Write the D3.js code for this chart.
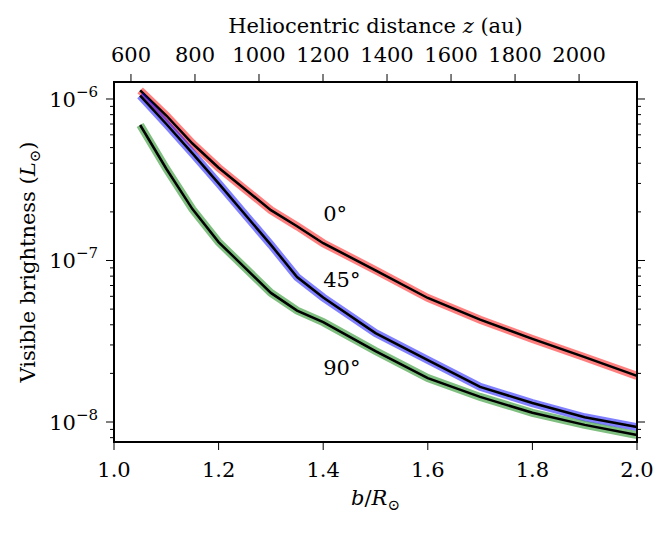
<!DOCTYPE html>
<html>
<head>
<meta charset="utf-8">
<script src="https://cdn.jsdelivr.net/npm/d3@7"></script>
<style>
body{margin:0;background:#fff;}
text{font-family:"DejaVu Serif",serif;fill:#000;}
</style>
</head>
<body>
<div id="chart"></div>
<script>
// values
var bValues = [1.05, 1.1, 1.15, 1.2, 1.3, 1.35, 1.4, 1.5, 1.6, 1.7, 1.8, 1.9, 2.0];
var bright0 = [1.13e-6, 7.9e-7, 5.3e-7, 3.75e-7, 2.05e-7, 1.63e-7, 1.28e-7, 8.7e-8, 5.86e-8, 4.3e-8, 3.27e-8, 2.52e-8, 1.93e-8];
var bright45 = [1.05e-6, 7.0e-7, 4.6e-7, 3.0e-7, 1.25e-7, 7.9e-8, 5.9e-8, 3.55e-8, 2.42e-8, 1.65e-8, 1.31e-8, 1.07e-8, 9.3e-9];
var bright90 = [6.9e-7, 3.7e-7, 2.08e-7, 1.3e-7, 6.3e-8, 4.9e-8, 4.15e-8, 2.75e-8, 1.87e-8, 1.43e-8, 1.14e-8, 9.6e-9, 8.3e-9];
var seriesNames = ["0°", "45°", "90°"];
var seriesColors = ["#ff0000", "#0000ff", "#008000"];
// where the angle labels sit (b, brightness)
var labelB = [1.4, 1.4, 1.4];
var labelL = [1.76e-7, 6.85e-8, 1.95e-8];

var bTicks = [1.0, 1.2, 1.4, 1.6, 1.8, 2.0];
var zTicks = [600, 800, 1000, 1200, 1400, 1600, 1800, 2000];
var yMajor = [1e-8, 1e-7, 1e-6];
var bDomain = [1.0, 2.0];
var zDomain = [547, 2181];
var yDomain = [7.52e-9, 1.274e-6];

(function(){

var svgWidth = 668, svgHeight = 533;
var pLeft = 114, pRight = 637, pTop = 82, pBottom = 442;
var fs = 21, fsSmall = 15;

var svg = d3.select("#chart").append("svg")
    .attr("width", svgWidth)
    .attr("height", svgHeight);

var xScale = d3.scaleLinear().domain(bDomain).range([pLeft, pRight]);
var zScale = d3.scaleLinear().domain(zDomain).range([pLeft, pRight]);
var yScale = d3.scaleLog().domain(yDomain).range([pBottom, pTop]);

// minor log ticks
var yMinor = [];
yMajor.concat([1e-9]).forEach(function(m){
    for(var k = 2; k <= 9; k++){
	var v = m * k;
	if(v >= yDomain[0] && v <= yDomain[1]) yMinor.push(v);
    }
});

var curves = [bright0, bright45, bright90];

var line = d3.line()
    .x(function(d){ return xScale(d[0]); })
    .y(function(d){ return yScale(d[1]); });

var plot = svg.append("g");

for(var i = 0; i < curves.length; i++){
    var pts = bValues.map(function(b, j){ return [b, curves[i][j]]; });
    plot.append("path")
	.attr("d", line(pts))
	.attr("fill", "none")
	.attr("stroke", seriesColors[i])
	.attr("stroke-opacity", 0.5)
	.attr("stroke-width", 8);
    plot.append("path")
	.attr("d", line(pts))
	.attr("fill", "none")
	.attr("stroke", "#000")
	.attr("stroke-width", 2.5);
    plot.append("text")
	.attr("x", xScale(labelB[i]))
	.attr("y", yScale(labelL[i]))
	.attr("font-size", fs)
	.text(seriesNames[i]);
}

// axes
var axisG = svg.append("g");

axisG.selectAll(".bt").data(bTicks).enter().append("line")
    .attr("x1", function(d){ return xScale(d); })
    .attr("x2", function(d){ return xScale(d); })
    .attr("y1", pBottom).attr("y2", pBottom + 8)
    .attr("stroke", "#000").attr("stroke-width", 1);

axisG.selectAll(".bl").data(bTicks).enter().append("text")
    .attr("x", function(d){ return xScale(d); })
    .attr("y", pBottom + 35)
    .attr("text-anchor", "middle")
    .attr("font-size", fs)
    .text(function(d){ return d.toFixed(1); });

axisG.selectAll(".zt").data(zTicks).enter().append("line")
    .attr("x1", function(d){ return zScale(d); })
    .attr("x2", function(d){ return zScale(d); })
    .attr("y1", pTop).attr("y2", pTop - 8)
    .attr("stroke", "#000").attr("stroke-width", 1);

axisG.selectAll(".zl").data(zTicks).enter().append("text")
    .attr("x", function(d){ return zScale(d); })
    .attr("y", pTop - 20)
    .attr("text-anchor", "middle")
    .attr("font-size", fs)
    .text(function(d){ return d; });

[pLeft, pRight].forEach(function(xp, side){
    var dir = side == 0 ? -1 : 1;
    axisG.selectAll(".ym" + side).data(yMajor).enter().append("line")
	.attr("x1", xp).attr("x2", xp + dir * 8)
	.attr("y1", function(d){ return yScale(d); })
	.attr("y2", function(d){ return yScale(d); })
	.attr("stroke", "#000").attr("stroke-width", 1);
    axisG.selectAll(".yn" + side).data(yMinor).enter().append("line")
	.attr("x1", xp).attr("x2", xp + dir * 4)
	.attr("y1", function(d){ return yScale(d); })
	.attr("y2", function(d){ return yScale(d); })
	.attr("stroke", "#000").attr("stroke-width", 1);
});

var yl = axisG.selectAll(".yl").data(yMajor).enter().append("text")
    .attr("x", pLeft - 16)
    .attr("y", function(d){ return yScale(d) + 8; })
    .attr("text-anchor", "end")
    .attr("font-size", fs);
yl.append("tspan").text("10");
yl.append("tspan")
    .attr("font-size", fsSmall)
    .attr("dy", -10)
    .text(function(d){ return "\u2212" + Math.round(-Math.log10(d)); });

// frame
svg.append("rect")
    .attr("x", pLeft).attr("y", pTop)
    .attr("width", pRight - pLeft).attr("height", pBottom - pTop)
    .attr("fill", "none")
    .attr("stroke", "#000")
    .attr("stroke-width", 2);

// titles
var xt = svg.append("text")
    .attr("x", (pLeft + pRight) / 2)
    .attr("y", 505)
    .attr("text-anchor", "middle")
    .attr("font-size", fs);
xt.append("tspan").attr("font-style", "italic").text("b");
xt.append("tspan").text("/");
xt.append("tspan").attr("font-style", "italic").text("R");
xt.append("tspan").attr("font-size", fsSmall).attr("dy", 5).text("\u2299");

var tt = svg.append("text")
    .attr("x", (pLeft + pRight) / 2)
    .attr("y", 33)
    .attr("text-anchor", "middle")
    .attr("font-size", fs);
tt.append("tspan").text("Heliocentric distance ");
tt.append("tspan").attr("font-style", "italic").text("z");
tt.append("tspan").text(" (au)");

var yt = svg.append("text")
    .attr("transform", "translate(35," + ((pTop + pBottom) / 2) + ") rotate(-90)")
    .attr("text-anchor", "middle")
    .attr("font-size", fs);
yt.append("tspan").text("Visible brightness (");
yt.append("tspan").attr("font-style", "italic").text("L");
yt.append("tspan").attr("font-size", fsSmall).attr("dy", 5).text("\u2299");
yt.append("tspan").attr("dy", -5).text(")");

})();
</script>
</body>
</html>
